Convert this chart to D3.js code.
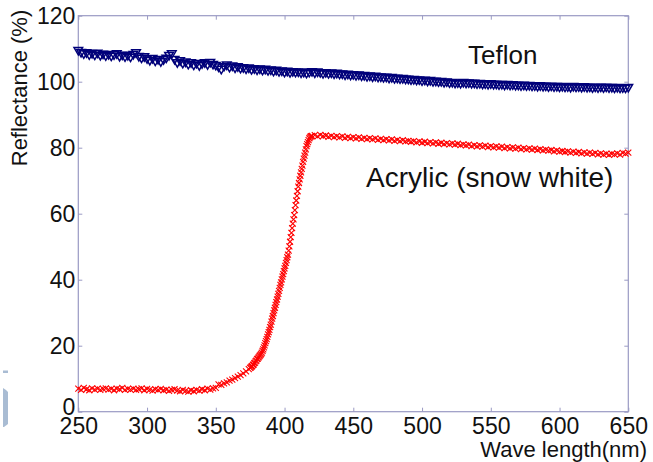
<!DOCTYPE html>
<html>
<head>
<meta charset="utf-8">
<script src="https://cdn.jsdelivr.net/npm/d3@7"></script>
<style>
  body { margin: 0; background: #fff; }
  svg { display: block; font-family: Arial, "Liberation Sans", sans-serif; }
</style>
</head>
<body>
<div id="chart"></div>
<script>
(function() {
    var svgWidth = 653;
    var svgHeight = 462;

    // Teflon sample grid (nm)
    var teflonWl = [
        250,252,254,256,258,260,262,264,266,268, 270,272,274,276,278,280,282,284,286,288,
        290,292,294,296,298,300,302,304,306,308, 310,312,314,316,318,320,322,324,326,328,
        330,332,334,336,338,340,342,344,346,348, 350,352,354,356,358,360,362,364,366,368,
        370,372,374,376,378,380,382,384,386,388, 390,392,394,396,398,400,402,404,406,408,
        410,412,414,416,418,420,422,424,426,428, 430,432,434,436,438,440,442,444,446,448,
        450,452,454,456,458,460,462,464,466,468, 470,472,474,476,478,480,482,484,486,488,
        490,492,494,496,498,500,502,504,506,508, 510,512,514,516,518,520,522,524,526,528,
        530,532,534,536,538,540,542,544,546,548, 550,552,554,556,558,560,562,564,566,568,
        570,572,574,576,578,580,582,584,586,588, 590,592,594,596,598,600,602,604,606,608,
        610,612,614,616,618,620,622,624,626,628, 630,632,634,636,638,640,642,644,646,648,
        650
    ];

    // Teflon reflectance (%)
    var teflon = [
        109.6,109.0,108.6,108.9,108.3,108.7,108.2,108.8,108.1,108.5, 108.0,108.4,107.9,108.3,108.6,107.8,108.2,107.7,108.1,107.6,
        108.4,108.9,107.8,107.3,107.7,107.1,106.6,107.2,106.4,106.9, 106.2,106.8,107.3,108.1,108.6,106.9,105.9,106.5,105.7,106.1,
        105.4,105.9,105.2,105.7,105.0,105.6,105.9,105.3,106.0,105.4, 105.1,104.6,103.9,104.8,105.2,104.5,104.9,104.3,104.7,104.2,
        104.4,104.0,104.3,103.8,104.1,103.7,104.0,103.6,103.9,103.5, 103.7,103.3,103.6,103.2,103.4,103.0,103.3,102.9,103.2,103.0,
        103.1,102.8,103.0,102.7,103.0,103.2,102.8,103.1,102.9,102.6, 102.9,102.6,102.8,102.5,102.7,102.4,102.5,102.2,102.4,102.1,
        102.3,102.0,102.2,101.9,102.0,101.7,101.9,101.6,101.8,101.5, 101.6,101.4,101.5,101.2,101.4,101.1,101.2,101.0,101.1,100.9,
        100.9,100.7,100.8,100.6,100.7,100.4,100.6,100.3,100.5,100.2, 100.3,100.1,100.2,99.9,100.1,99.8,99.9,99.7,99.8,99.6,
        99.9,99.7,99.8,99.6,99.7,99.5,99.6,99.4,99.5,99.3, 99.5,99.3,99.4,99.2,99.3,99.1,99.3,99.1,99.2,99.0,
        99.1,98.9,99.1,98.9,99.0,98.8,98.9,98.7,98.9,98.7, 98.8,98.6,98.8,98.6,98.7,98.5,98.7,98.5,98.6,98.4,
        98.7,98.5,98.6,98.4,98.6,98.4,98.5,98.3,98.5,98.3, 98.5,98.3,98.5,98.3,98.4,98.2,98.4,98.2,98.3,98.2,
        98.4
    ];

    // Acrylic sample grid (nm): finer around the absorption edge
    var acrylicWl = [
        250,252,254,256,258,260,262,264,266,268, 270,272,274,276,278,280,282,284,286,288,
        290,292,294,296,298,300,302,304,306,308, 310,312,314,316,318,320,322,324,326,328,
        330,332,334,336,338,340,342,344,346,348, 350,352,354,356,358,360,362,364,366,368,
        370,372,374,
        375,375.5,376,376.5,377,377.5,378,378.5,379,379.5, 380,380.5,381,381.5,382,382.5,383,383.5,384,384.5,
        385,385.5,386,386.5,387,387.5,388,388.5,389,389.5, 390,390.5,391,391.5,392,392.5,393,393.5,394,394.5,
        395,395.5,396,396.5,397,397.5,398,398.5,399,399.5, 400,400.5,401,401.5,402,402.5,403,403.5,404,404.5,
        405,405.5,406,406.5,407,407.5,408,408.5,409,409.5, 410,410.5,411,411.5,412,412.5,413,413.5,414,414.5,
        415,415.5,416,416.5,417,417.5,418,418.5,419,419.5, 420,
        422,424,426,428,
        430,432,434,436,438,440,442,444,446,448, 450,452,454,456,458,460,462,464,466,468,
        470,472,474,476,478,480,482,484,486,488, 490,492,494,496,498,500,502,504,506,508,
        510,512,514,516,518,520,522,524,526,528, 530,532,534,536,538,540,542,544,546,548,
        550,552,554,556,558,560,562,564,566,568, 570,572,574,576,578,580,582,584,586,588,
        590,592,594,596,598,600,602,604,606,608, 610,612,614,616,618,620,622,624,626,628,
        630,632,634,636,638,640,642,644,646,648, 650
    ];

    // Acrylic (snow white) reflectance (%)
    var acrylic = [
        7.0,6.6,7.2,6.8,6.5,7.1,6.7,7.0,6.6,6.9, 7.1,6.7,6.9,6.5,7.0,6.8,7.2,6.6,6.9,6.7,
        7.0,6.6,6.8,7.1,6.5,6.9,6.7,6.4,6.8,6.6, 6.9,6.5,6.7,6.3,6.6,6.8,6.4,6.2,6.6,6.3,
        6.1,6.5,6.2,6.6,6.4,6.8,6.5,7.0,6.7,7.1, 7.2,8.3,8.1,8.6,8.9,9.4,9.7,10.2,10.6,11.1,
        11.6,12.2,12.9,
        13.3,13.4,13.7,13.8,14.2,14.3,14.7,14.9,15.3,15.5, 15.9,16.1,16.4,16.7,17.0,17.2,17.5,17.9,18.4,18.9,
        19.5,20.1,20.8,21.4,22.0,22.7,23.4,24.1,24.8,25.6, 26.4,27.3,28.2,29.0,29.9,30.7,31.5,32.4,33.2,34.0,
        34.9,35.7,36.6,37.5,38.4,39.2,40.1,40.9,41.7,42.6, 43.4,44.2,45.1,45.9,46.8,47.6,48.8,50.1,51.5,52.9,
        54.2,55.6,57.0,58.3,59.6,61.1,62.6,64.0,65.4,66.8, 68.2,69.3,70.4,71.5,72.5,73.6,74.6,75.7,76.7,77.6,
        78.5,79.5,80.5,81.1,81.7,82.3,82.8,83.1,83.4,83.5, 83.6,
        83.8,83.4,83.9,83.5,
        83.7,83.3,83.6,83.2,83.5,83.1,83.4,83.0,83.3,82.9, 83.2,82.8,83.1,82.7,83.0,82.6,82.9,82.5,82.8,82.4,
        82.7,82.3,82.6,82.2,82.5,82.1,82.4,82.0,82.3,81.9, 82.1,81.8,82.0,81.6,81.9,81.5,81.8,81.4,81.7,81.3,
        81.6,81.2,81.5,81.1,81.4,81.0,81.3,80.9,81.2,80.8, 81.0,80.7,80.9,80.5,80.8,80.4,80.7,80.3,80.6,80.2,
        80.5,80.1,80.4,80.0,80.3,79.9,80.2,79.8,80.1,79.7, 80.0,79.6,79.9,79.5,79.8,79.4,79.7,79.3,79.6,79.2,
        79.4,79.1,79.3,78.9,79.2,78.8,79.0,78.7,78.9,78.5, 78.8,78.4,78.7,78.3,78.6,78.2,78.5,78.1,78.4,78.0,
        78.3,77.9,78.2,77.8,78.1,78.0,78.3,77.9,78.4,78.2, 78.5
    ];

    var xTicks = [250, 300, 350, 400, 450, 500, 550, 600, 650];
    var yTicks = [0, 20, 40, 60, 80, 100, 120];

    var axisColor = '#9a9ac4';

    var svg = d3.select('#chart').append('svg')
        .attr('width', svgWidth)
        .attr('height', svgHeight);

    var x = d3.scaleLinear().domain([250, 650]).range([78.3, 628.3]);
    var y = d3.scaleLinear().domain([0, 120]).range([411.7, 15.7]);

    // little leftover shape at the left edge of the slide
    svg.append('rect')
        .attr('x', 3).attr('y', 370.5).attr('width', 5).attr('height', 2.5)
        .style('fill', '#a9bcd3');
    svg.append('path')
        .attr('d', 'M3,388L6,390L8,392L8,424L4,427L3,427Z')
        .style('fill', '#a9bcd3');

    // axes (ticks pointing inward, MATLAB style)
    var bottom = svg.append('g')
        .attr('transform', 'translate(0,' + y(0) + ')')
        .call(d3.axisBottom(x).tickValues(xTicks).tickSize(-4).tickPadding(6));
    var top = svg.append('g')
        .attr('transform', 'translate(0,' + y(120) + ')')
        .call(d3.axisTop(x).tickValues(xTicks).tickSize(-4).tickFormat(''));
    var left = svg.append('g')
        .attr('transform', 'translate(' + x(250) + ',0)')
        .call(d3.axisLeft(y).tickValues(yTicks).tickSize(-4).tickPadding(3));
    var right = svg.append('g')
        .attr('transform', 'translate(' + x(650) + ',0)')
        .call(d3.axisRight(y).tickValues(yTicks).tickSize(-4).tickFormat(''));

    [bottom, top, left, right].forEach(function(g) {
        g.select('.domain').remove();
        g.selectAll('line').style('stroke', axisColor);
        g.selectAll('text')
            .style('font-size', '23px')
            .style('fill', '#111')
            .style('font-family', 'Arial, "Liberation Sans", sans-serif');
    });
    // the zero label sits a little higher than its tick
    left.selectAll('.tick text').filter(function(d) { return d === 0; })
        .attr('dy', '0.1em');

    // box
    svg.append('rect')
        .attr('x', x(250)).attr('y', y(120))
        .attr('width', x(650) - x(250)).attr('height', y(0) - y(120))
        .style('fill', 'none')
        .style('stroke', axisColor)
        .style('stroke-width', 1.2);

    // Teflon: downward triangles
    var tri = d3.symbol().type(d3.symbolTriangle).size(32);
    svg.append('g').selectAll('path')
        .data(teflonWl)
        .enter().append('path')
        .attr('d', tri)
        .attr('transform', function(d, i) {
            return 'translate(' + x(d) + ',' + y(teflon[i]) + ') rotate(180)';
        })
        .style('fill', 'none')
        .style('stroke', '#00007a')
        .style('stroke-width', 1.5);

    // Acrylic: x markers
    svg.append('g').selectAll('path')
        .data(acrylicWl)
        .enter().append('path')
        .attr('d', 'M-3,-3L3,3M-3,3L3,-3')
        .attr('transform', function(d, i) {
            return 'translate(' + x(d) + ',' + y(acrylic[i]) + ')';
        })
        .style('fill', 'none')
        .style('stroke', '#ff0000')
        .style('stroke-width', 1.1);

    // labels
    svg.append('text')
        .attr('x', 468).attr('y', 64)
        .style('font-size', '26px').style('fill', '#111')
        .text('Teflon');
    svg.append('text')
        .attr('x', 366).attr('y', 187)
        .style('font-size', '28px').style('fill', '#111')
        .text('Acrylic (snow white)');
    svg.append('text')
        .attr('x', 647).attr('y', 457)
        .attr('text-anchor', 'end')
        .style('font-size', '22px').style('fill', '#111')
        .text('Wave length(nm)');
    svg.append('text')
        .attr('transform', 'translate(27,88) rotate(-90)')
        .attr('text-anchor', 'middle')
        .style('font-size', '22px').style('fill', '#111')
        .text('Reflectance (%)');
})();
</script>
</body>
</html>
